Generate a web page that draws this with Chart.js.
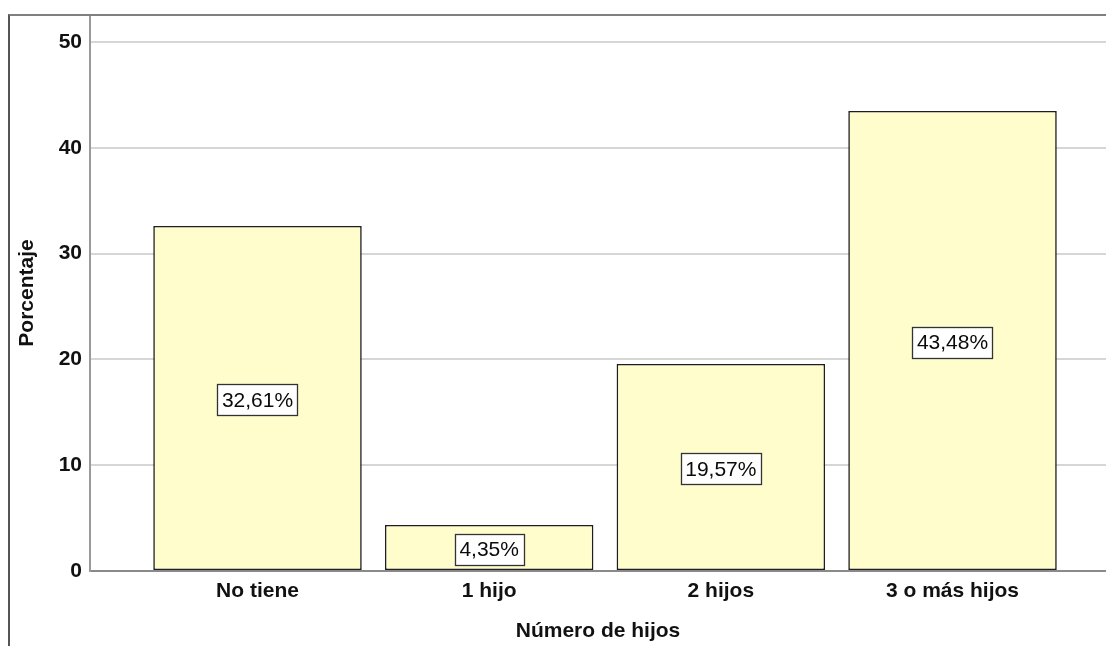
<!DOCTYPE html>
<html>
<head>
<meta charset="utf-8">
<script src="https://cdn.jsdelivr.net/npm/chart.js@4/dist/chart.umd.min.js"></script>
<style>
  html, body { margin: 0; padding: 0; background: #fff; }
  #wrap { position: relative; width: 1106px; height: 646px; }
  #frame { position: absolute; left: 8px; top: 14px; right: 0; bottom: 0;
           border-left: 2px solid #555; border-top: 2px solid #808080; pointer-events: none; }
</style>
</head>
<body>
<div id="wrap">
  <canvas id="c" width="1106" height="646"></canvas>
  <div id="frame"></div>
</div>
<script>
const categories = ["No tiene", "1 hijo", "2 hijos", "3 o más hijos"];
const percentages = [32.61, 4.35, 19.57, 43.48];
const yTicks = [0, 10, 20, 30, 40, 50];
const xTitle = "Número de hijos";
const yTitle = "Porcentaje";

const FONT = "'Liberation Sans', Arial, sans-serif";

const labelPlugin = {
  id: 'barLabels',
  afterDatasetsDraw(chart) {
    const ctx = chart.ctx;
    const meta = chart.getDatasetMeta(0);
    ctx.save();
    ctx.font = "21px " + FONT;
    ctx.textAlign = 'center';
    ctx.textBaseline = 'middle';
    meta.data.forEach((bar, i) => {
      const txt = percentages[i].toFixed(2).replace('.', ',') + '%';
      const cx = bar.x;
      const cy = (bar.y + bar.base) / 2 + 2;
      const w = ctx.measureText(txt).width + 9;
      const h = 31;
      const x0 = Math.round(cx - w / 2) + 0.5, y0 = Math.round(cy - h / 2) + 0.5;
      ctx.fillStyle = '#ffffff';
      ctx.fillRect(x0, y0, Math.round(w), h);
      ctx.strokeStyle = '#333333';
      ctx.lineWidth = 1.3;
      ctx.strokeRect(x0, y0, Math.round(w), h);
      ctx.fillStyle = '#0a0a0a';
      ctx.fillText(txt, cx, cy + 1);
    });
    ctx.restore();
  }
};

new Chart(document.getElementById('c'), {
  type: 'bar',
  data: {
    datasets: [{
      data: categories.map((c, i) => ({ x: i, y: percentages[i] })),
      backgroundColor: '#fffdcc',
      borderColor: '#1e1e1e',
      borderWidth: 1.6,
      borderSkipped: false,
      barPercentage: 0.9,
      categoryPercentage: 1.0
    }]
  },
  options: {
    responsive: false,
    animation: false,
    events: [],
    layout: { padding: { top: 15, left: 0, right: 0, bottom: 0 } },
    plugins: { legend: { display: false }, tooltip: { enabled: false } },
    scales: {
      x: {
        type: 'linear',
        offset: false,
        min: -0.723,
        max: 3.6625,
        afterBuildTicks(scale) { scale.ticks = categories.map((c, i) => ({ value: i })); },
        afterFit(scale) { scale.height = 75; scale.paddingLeft = 0; scale.paddingRight = 0; },
        grid: { display: false, drawTicks: false, offset: false },
        border: { display: true, color: '#8a8a8a', width: 2 },
        ticks: {
          autoSkip: false,
          maxRotation: 0,
          padding: 8,
          color: '#111',
          font: { family: FONT, size: 21, weight: 'bold' },
          callback: (v) => categories[v]
        },
        title: {
          display: true,
          text: xTitle,
          color: '#111',
          font: { family: FONT, size: 21, weight: 'bold' },
          padding: { top: 0, bottom: 2 }
        }
      },
      y: {
        min: 0,
        max: 52.55,
        afterBuildTicks(scale) { scale.ticks = yTicks.map(v => ({ value: v })); },
        afterFit(scale) { scale.width = 90; scale.paddingTop = 0; scale.paddingBottom = 0; },
        grid: { color: '#d6d6d6', lineWidth: 2, drawTicks: false },
        border: { display: true, color: '#9a9a9a', width: 2 },
        ticks: {
          padding: 8,
          color: '#111',
          font: { family: FONT, size: 21, weight: 'bold' }
        },
        title: {
          display: true,
          text: yTitle,
          color: '#111',
          font: { family: FONT, size: 21, weight: 'bold' },
          padding: { top: 15, bottom: 0 }
        }
      }
    }
  },
  plugins: [labelPlugin]
});
</script>
</body>
</html>
